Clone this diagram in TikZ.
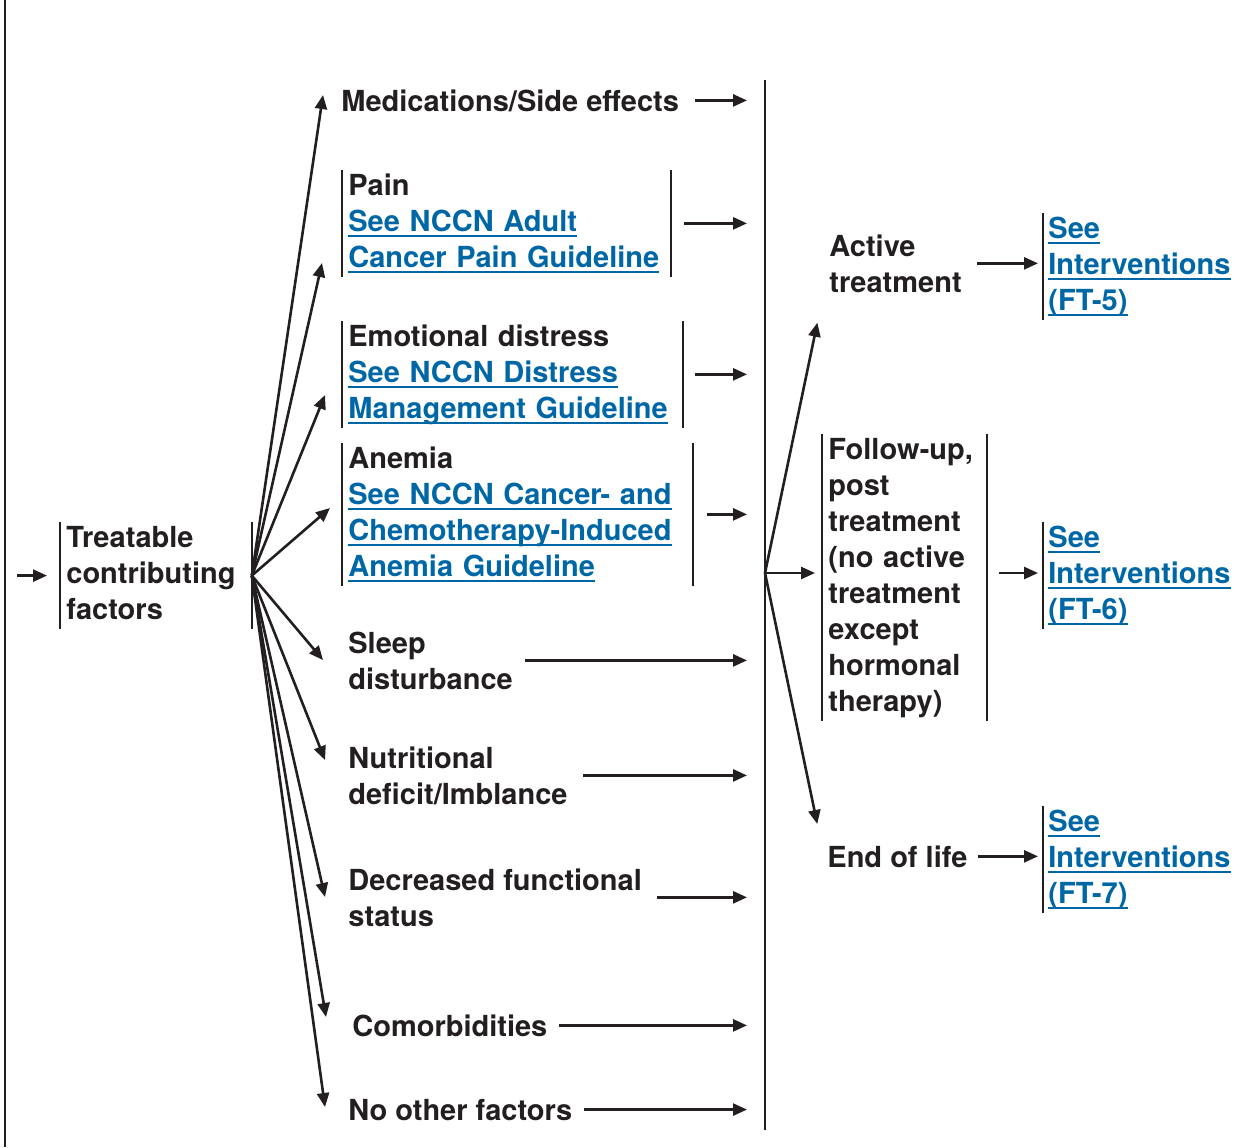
\documentclass[tikz,border=0pt]{standalone}
\usepackage{fontspec}
\setmainfont{TeX Gyre Heros}
\usetikzlibrary{arrows.meta, calc}

\definecolor{inkgray}{HTML}{231F20}
\definecolor{linkblue}{RGB}{0,103,166}
\newcommand{\lnk}[1]{\leavevmode{\color{linkblue}\setbox0=\hbox{#1}\rlap{\rule[-3pt]{\wd0}{0.9pt}}\box0}}

\begin{document}
\begin{tikzpicture}[x=0.5pt, y=-0.5pt,
  every node/.style={font=\fontsize{14.5}{18}\selectfont\bfseries, text=inkgray, inner xsep=3pt, inner ysep=1.5pt},
  factor/.style={anchor=base west, align=left},
  boxed/.style={anchor=base west, align=left, execute at end node=\vphantom{g}},
  link/.style={anchor=base west, align=left, inner xsep=2.5pt, execute at end node=\vphantom{g}},
  rule/.style={draw=inkgray, line width=1.3pt},
  arr/.style={draw=inkgray, line width=1.3pt, -{Triangle[length=7pt,width=6pt]}}]
\useasboundingbox (0,0) rectangle (1251,1147);

% Left rule
\coordinate (lefttop) at (5,0);
\coordinate (leftbot) at (5,1147);
\draw[rule] (lefttop) -- (leftbot);

% Treatable contributing factors
\node[boxed, text width=89.5pt] (treat) at (60,547) {Treatable\\contributing\\factors};
\draw[arr, shorten <=6pt, shorten >=6.5pt] (treat.west -| lefttop) -- (treat.west);

% Factors (multi-line ones sit on their last line)
\node[factor] (med) at (335,111) {Medications/Side effects};
\node[boxed, text width=158pt] (pain) at (342,195) {Pain\\\lnk{See NCCN Adult}\\\lnk{Cancer Pain Guideline}};
\node[boxed, text width=164pt] (emo) at (342,346) {Emotional distress\\\lnk{See NCCN Distress}\\\lnk{Management Guideline}};
\node[boxed, text width=169pt] (anem) at (342,468) {Anemia\\\lnk{See NCCN Cancer- and}\\\lnk{Chemotherapy-Induced}\\\lnk{Anemia Guideline}};
\node[factor] (sleep) at (342,689) {Sleep\\disturbance};
\node[factor] (nutr) at (342,804) {Nutritional\\deficit/Imblance};
\node[factor] (func) at (342,926) {Decreased functional\\status};
\node[factor] (comor) at (346,1036) {Comorbidities};
\node[factor] (none) at (342,1120) {No other factors};

% Fan out of the factors box
\foreach \n/\x/\y in {med/323/95, pain/322/263, emo/325/395, anem/330/508, sleep/323/660, nutr/325/760, func/325/897, comor/326/1017, none/325/1107}
  \coordinate (\n-tip) at (\x,\y);
\foreach \n in {med, pain, emo, anem, sleep, nutr, func, comor, none}
  \draw[arr] (treat.east) -- (\n-tip);

% Collecting rule
\coordinate (bartop) at (765,80);
\coordinate (barbot) at (765,1130);
\draw[rule] (bartop) -- (barbot);
\foreach \n/\s in {med/5pt, pain/6.5pt, emo/6pt, anem/7pt, sleep/3pt, nutr/4.5pt, func/4.5pt, comor/2.5pt, none/2.5pt}
  \draw[arr, shorten <=\s, shorten >=9pt] (\n.east) -- (\n.east -| bartop);

% Treatment phases
\node[factor] (active) at (823,292) {Active\\treatment};
\node[boxed, text width=76pt] (fu) at (822,459) {Follow-up,\\post\\treatment\\(no active\\treatment\\except\\hormonal\\therapy)};
\node[factor] (eol) at (821,867) {End of life};

\coordinate (hub) at (765,573);
\draw[arr, shorten >=13.8pt] (hub) -- (active.south west);
\draw[arr, shorten >=3.5pt] (hub) -- (hub -| fu.west);
\draw[arr, shorten >=9.2pt] (hub) -- (eol.north west);

% Interventions
\node[link] (ft5) at (1043,310) {\lnk{See}\\\lnk{Interventions}\\\lnk{(FT-5)}};
\node[link] (ft6) at (1043,619) {\lnk{See}\\\lnk{Interventions}\\\lnk{(FT-6)}};
\node[link] (ft7) at (1043,903) {\lnk{See}\\\lnk{Interventions}\\\lnk{(FT-7)}};

\draw[arr, shorten <=4.5pt, shorten >=2.5pt] (active.east) -- (active.east -| ft5.west);
\draw[arr, shorten <=6pt, shorten >=2.5pt] (fu.east |- hub) -- (hub -| ft6.west);
\draw[arr, shorten <=2pt, shorten >=2.5pt] (eol.east) -- (eol.east -| ft7.west);

% Side rules
\foreach \b in {treat, pain, emo, anem, fu}
  \draw[rule] (\b.north west) -- (\b.south west) (\b.north east) -- (\b.south east);
\foreach \b in {ft5, ft6, ft7}
  \draw[rule] (\b.north west) -- (\b.south west);
\end{tikzpicture}
\end{document}
